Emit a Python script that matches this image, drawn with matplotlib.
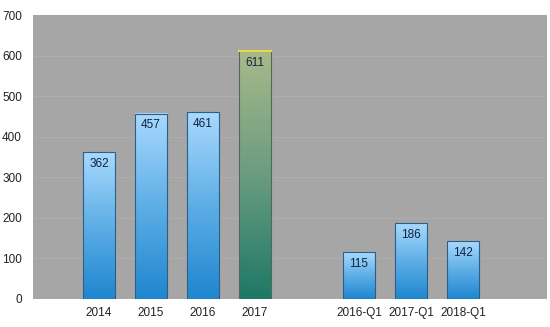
import numpy as np
import matplotlib.pyplot as plt
from matplotlib.colors import LinearSegmentedColormap

# -------------------------------------------------------
# Data
# -------------------------------------------------------

categories = ["", "2014", "2015", "2016", "2017", "", "2016-Q1", "2017-Q1", "2018-Q1", ""]
values = [0, 362, 457, 461, 611, None, 115, 186, 142, None]
highlight = "2017"

plt.rcParams['font.family'] = ['Liberation Sans', 'DejaVu Sans']

blue_cmap = LinearSegmentedColormap.from_list("blue", ["#1f86cf", "#5eaee6", "#a9d9fe"])
green_cmap = LinearSegmentedColormap.from_list("green", ["#1d7866", "#6a9c80", "#a8b98a"])

fig = plt.figure(figsize=(5.5, 3.27), dpi=100)
ax = fig.add_axes([0.06, 0.086, 0.935, 0.868])

ax.set_facecolor("#a6a6a6")

for y in range(100, 700, 100):
    ax.axhline(y, color="#adadad", linewidth=0.8, zorder=0)

width = 0.62
grad = np.linspace(0, 1, 256).reshape(-1, 1)

for i, (cat, v) in enumerate(zip(categories, values)):
    if not v:
        continue
    cmap = green_cmap if cat == highlight else blue_cmap
    x0 = i - width / 2
    x1 = i + width / 2
    ax.imshow(grad, cmap=cmap, origin="lower", aspect="auto",
              extent=(x0, x1, 0, v), zorder=2)
    edge = "#4d6b55" if cat == highlight else "#2a5f88"
    ax.bar(i, v, width=width, facecolor="none", edgecolor=edge,
           linewidth=0.8, zorder=3)
    if cat == highlight:
        ax.plot([x0, x1], [v, v], color="#e8d84a", linewidth=1.5, zorder=4)
    ax.text(i, v - 14, str(v), ha="center", va="top", fontsize=8.5,
            color="#10243f", zorder=5)

ax.set_xticks(range(len(categories)))
ax.set_xticklabels(categories, fontsize=8.5, color="#222222")
ax.set_yticks(range(0, 701, 100))
ax.set_yticklabels([str(t) for t in range(0, 701, 100)], fontsize=8.5, color="#222222")
ax.tick_params(length=0)
ax.tick_params(axis="x", pad=6)
ax.tick_params(axis="y", pad=8)

for s in ax.spines.values():
    s.set_visible(False)

ax.set_xlim(-0.27, 9.62)
ax.set_ylim(0, 700)

fig.savefig("out.png", dpi=100)
